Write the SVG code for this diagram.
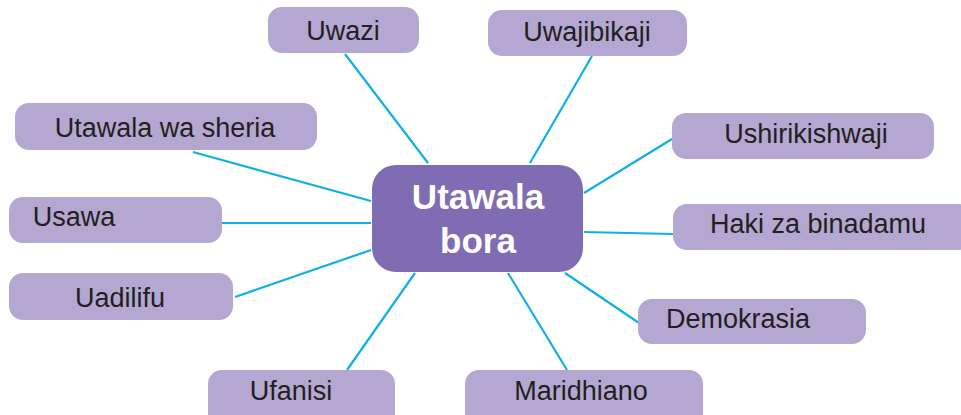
<svg xmlns="http://www.w3.org/2000/svg" width="961" height="415" viewBox="0 0 961 415">
<style>
.n{fill:#b4a8d2}
.t{font-family:"Liberation Sans",Arial,sans-serif;font-size:27px;fill:#231f20;text-anchor:middle}
.c line{stroke:#0fb0e8;stroke-width:2.2}
.m{fill:#806cb2}
.mt{font-family:"Liberation Sans",Arial,sans-serif;font-size:35px;font-weight:bold;fill:#fff;text-anchor:middle}
</style>
<rect width="961" height="415" fill="#fff"/>
<g class="c" id="connectors">
<line x1="345" y1="54" x2="428" y2="163"/>
<line x1="592" y1="56" x2="530" y2="163"/>
<line x1="672" y1="139" x2="584" y2="193"/>
<line x1="673" y1="234" x2="584" y2="232"/>
<line x1="639" y1="323" x2="565" y2="273"/>
<line x1="567" y1="370" x2="508" y2="273"/>
<line x1="347" y1="370" x2="415" y2="273"/>
<line x1="235" y1="297" x2="371" y2="250"/>
<line x1="222" y1="223" x2="371" y2="223"/>
<line x1="193" y1="152" x2="371" y2="201"/>
</g>
<g id="center"><rect class="m" x="372" y="165" width="211" height="107" rx="24"/><text class="mt" x="478" y="209">Utawala</text><text class="mt" x="478" y="253">bora</text></g>
<g id="uwazi"><rect class="n" x="268" y="7" width="151" height="46" rx="14"/><text class="t" x="343" y="40">Uwazi</text></g>
<g id="uwajibikaji"><rect class="n" x="488" y="10" width="199" height="46" rx="14"/><text class="t" x="587" y="41">Uwajibikaji</text></g>
<g id="ushirikishwaji"><rect class="n" x="672" y="113" width="262" height="46" rx="14"/><text class="t" x="806" y="143">Ushirikishwaji</text></g>
<g id="haki"><rect class="n" x="673" y="204" width="300" height="46" rx="14"/><text class="t" x="818" y="233">Haki za binadamu</text></g>
<g id="demokrasia"><rect class="n" x="638" y="299" width="228" height="45" rx="14"/><text class="t" x="738" y="328">Demokrasia</text></g>
<g id="maridhiano"><rect class="n" x="465" y="370" width="238" height="60" rx="14"/><text class="t" x="581" y="400">Maridhiano</text></g>
<g id="ufanisi"><rect class="n" x="208" y="370" width="187" height="60" rx="14"/><text class="t" x="291" y="400">Ufanisi</text></g>
<g id="uadilifu"><rect class="n" x="9" y="273" width="224" height="47" rx="14"/><text class="t" x="120" y="307">Uadilifu</text></g>
<g id="usawa"><rect class="n" x="9" y="197" width="213" height="46" rx="14"/><text class="t" x="74" y="226">Usawa</text></g>
<g id="sheria"><rect class="n" x="15" y="103" width="302" height="47" rx="14"/><text class="t" x="165" y="137">Utawala wa sheria</text></g>
</svg>
